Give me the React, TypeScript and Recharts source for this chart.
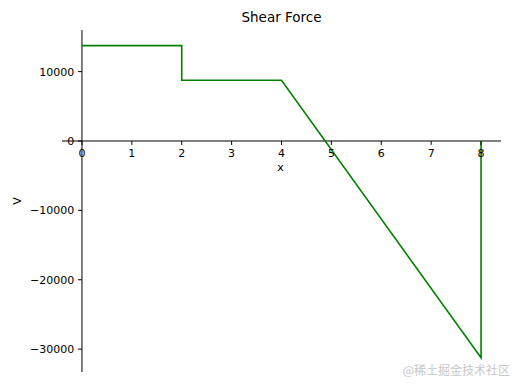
import { LineChart, Line, XAxis, YAxis, ReferenceLine } from "recharts";

const X_POINTS = [0, 2, 2, 4, 8, 8];
const SHEAR = [13750, 13750, 8750, 8750, -31250, 0];
const X_TICKS = [0, 1, 2, 3, 4, 5, 6, 7, 8];
const Y_TICKS = [-30000, -20000, -10000, 0, 10000];

const W = 512;
const H = 384;
const M = { top: 30, right: 11, bottom: 0, left: 0 };
const Y_AXIS_W = 62;
const X_AXIS_H = 12;
const X_DOMAIN: [number, number] = [-0.4, 8.4];
const Y_DOMAIN: [number, number] = [-33300, 16000];

const FONT = "DejaVu Sans, sans-serif";

/* where the centred spines sit, in px */
const plotL = M.left + Y_AXIS_W;
const plotW = W - plotL - M.right;
const plotH = H - M.top - M.bottom - X_AXIS_H;
const ZERO_X = plotL + (plotW * (0 - X_DOMAIN[0])) / (X_DOMAIN[1] - X_DOMAIN[0]);
const ZERO_Y = M.top + (plotH * (Y_DOMAIN[1] - 0)) / (Y_DOMAIN[1] - Y_DOMAIN[0]);

const fmt = (v: number) => (v < 0 ? "\u2212" + Math.abs(v) : String(v));

function XTick(props: any) {
  const { x, payload } = props;
  return (
    <g>
      <line x1={x} x2={x} y1={ZERO_Y} y2={ZERO_Y + 3.9} stroke="#000" strokeWidth={1} />
      <text x={x} y={ZERO_Y + 16} textAnchor="middle" fontSize={11} fontFamily={FONT} fill="#000">
        {payload.value}
      </text>
    </g>
  );
}

function YTick(props: any) {
  const { y, payload } = props;
  return (
    <g>
      <line x1={ZERO_X - 3.9} x2={ZERO_X} y1={y} y2={y} stroke="#000" strokeWidth={1} />
      <text x={ZERO_X - 7.8} y={y + 4} textAnchor="end" fontSize={11} fontFamily={FONT} fill="#000">
        {fmt(payload.value)}
      </text>
    </g>
  );
}

export default function App() {
  const data = X_POINTS.map((x, i) => ({ x, v: SHEAR[i] }));

  return (
    <div style={{ position: "absolute", left: 0, top: 0, width: W, height: H, background: "#fff" }}>
      <LineChart width={W} height={H} data={data} margin={M}>
        <XAxis
          dataKey="x"
          type="number"
          domain={X_DOMAIN}
          ticks={X_TICKS}
          allowDataOverflow
          height={X_AXIS_H}
          axisLine={false}
          tickLine={false}
          tick={XTick}
          interval={0}
        />
        <YAxis
          type="number"
          domain={Y_DOMAIN}
          ticks={Y_TICKS}
          allowDataOverflow
          width={Y_AXIS_W}
          axisLine={false}
          tickLine={false}
          tick={YTick}
          interval={0}
        />
        <ReferenceLine x={0} stroke="#000" strokeWidth={1} />
        <ReferenceLine y={0} stroke="#000" strokeWidth={1} />
        <Line
          dataKey="v"
          type="linear"
          stroke="#008000"
          strokeWidth={1.6}
          dot={false}
          isAnimationActive={false}
        />
        <text x={plotL + plotW / 2} y={22} textAnchor="middle" fontSize={13.5} fontFamily={FONT} fill="#000">
          Shear Force
        </text>
        <text x={plotL + plotW / 2 - 1} y={171} textAnchor="middle" fontSize={11} fontFamily={FONT} fill="#000">
          x
        </text>
        <text
          x={21}
          y={M.top + plotH / 2}
          textAnchor="middle"
          fontSize={11}
          fontFamily={FONT}
          fill="#000"
          transform={`rotate(-90 21 ${M.top + plotH / 2})`}
        >
          V
        </text>
        <text x={510} y={375} textAnchor="end" fontSize={12} fontFamily="Noto Sans CJK SC, sans-serif" fill="#c8c8c8">
          @稀土掘金技术社区
        </text>
      </LineChart>
    </div>
  );
}
